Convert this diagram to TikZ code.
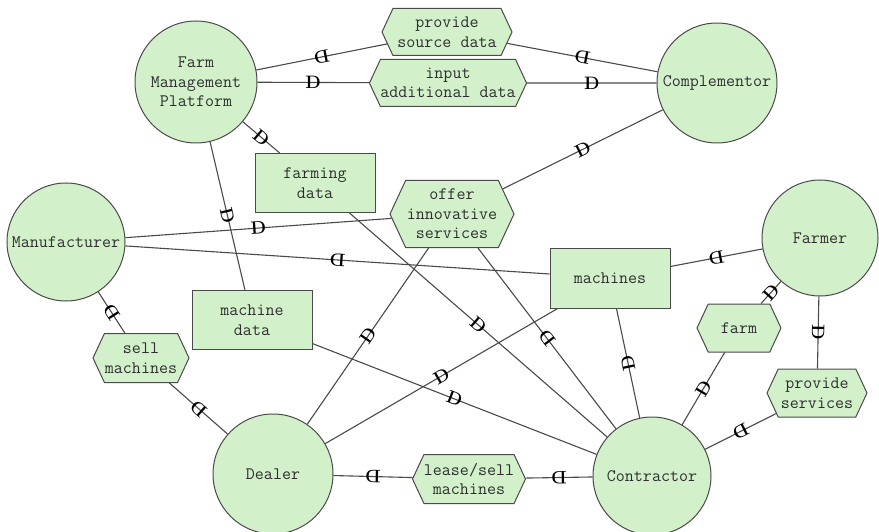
\documentclass[tikz,border=0pt]{standalone}
\usepackage{fontspec}
\usetikzlibrary{shapes.symbols}
\definecolor{istarfill}{HTML}{D2F1CB}
\definecolor{istarline}{HTML}{4A4A4A}
\definecolor{istarink}{HTML}{2E2E2E}
\tikzset{
  istarbox/.style={draw=istarline,fill=istarfill,line width=1pt,inner sep=0pt,
    align=center,text=istarink,font=\ttfamily\fontsize{17.5}{19.5}\selectfont},
  actornode/.style={istarbox,circle,minimum size=#1},
  goalnode/.style={istarbox,signal,signal to=east and west,signal pointer angle=130},
  resourcenode/.style={istarbox,rectangle,minimum width=120pt,minimum height=59pt},
  depedge/.style={draw=istarline,line width=1.1pt},
  depmark/.style={sloped,allow upside down,inner sep=0pt,text=black,
    font=\rmfamily\bfseries\fontsize{18}{18}\selectfont},
}
\begin{document}
\begin{tikzpicture}[x=1pt,y=-1pt]
  \path[use as bounding box] (0,0) rectangle (879,532);
  % actors
  \node[actornode=122pt] (fmp) at (196,82) {Farm\\Management\\Platform};
  \node[actornode=120pt] (compl) at (717,83) {Complementor};
  \node[actornode=118pt] (manuf) at (66,242) {Manufacturer};
  \node[actornode=116pt] (farmer) at (820,238) {Farmer};
  \node[actornode=120pt] (dealer) at (273,474) {Dealer};
  \node[actornode=118pt] (contr) at (652,476) {Contractor};
  % goals
  \foreach \n/\x/\y/\w/\h/\t in {
      psd/447/32/130/47/{provide\\source data},
      iad/448/83/157/47/{input\\additional data},
      ois/452/214/124/67/{offer\\innovative\\services},
      sm/141/358/96/49/{sell\\machines},
      farm/739/328/84/48/{farm},
      ps/817/393/100/48/{provide\\services},
      lsm/469/479/112/49/{lease/sell\\machines}}
    {\node[goalnode,minimum width=\w pt,minimum height=\h pt] (\n) at (\x,\y) {\t};}
  % resources
  \node[resourcenode] (fd) at (315,183) {farming\\data};
  \node[resourcenode] (md) at (252,320) {machine\\data};
  \node[resourcenode,minimum height=60pt] (mach) at (610,278) {machines};
  % dependency links, D points to the second node
  \foreach \a/\b in {compl/psd,psd/fmp,fmp/iad,iad/compl,fmp/fd,fd/contr,
      fmp/md,md/contr,manuf/ois,dealer/ois,contr/ois,ois/compl,
      mach/manuf,farmer/mach,dealer/mach,contr/mach,dealer/sm,sm/manuf,
      contr/lsm,lsm/dealer,contr/farm,farm/farmer,farmer/ps,ps/contr}
    {\draw[depedge] (\a) -- node[depmark] {D} (\b);}
\end{tikzpicture}
\end{document}
